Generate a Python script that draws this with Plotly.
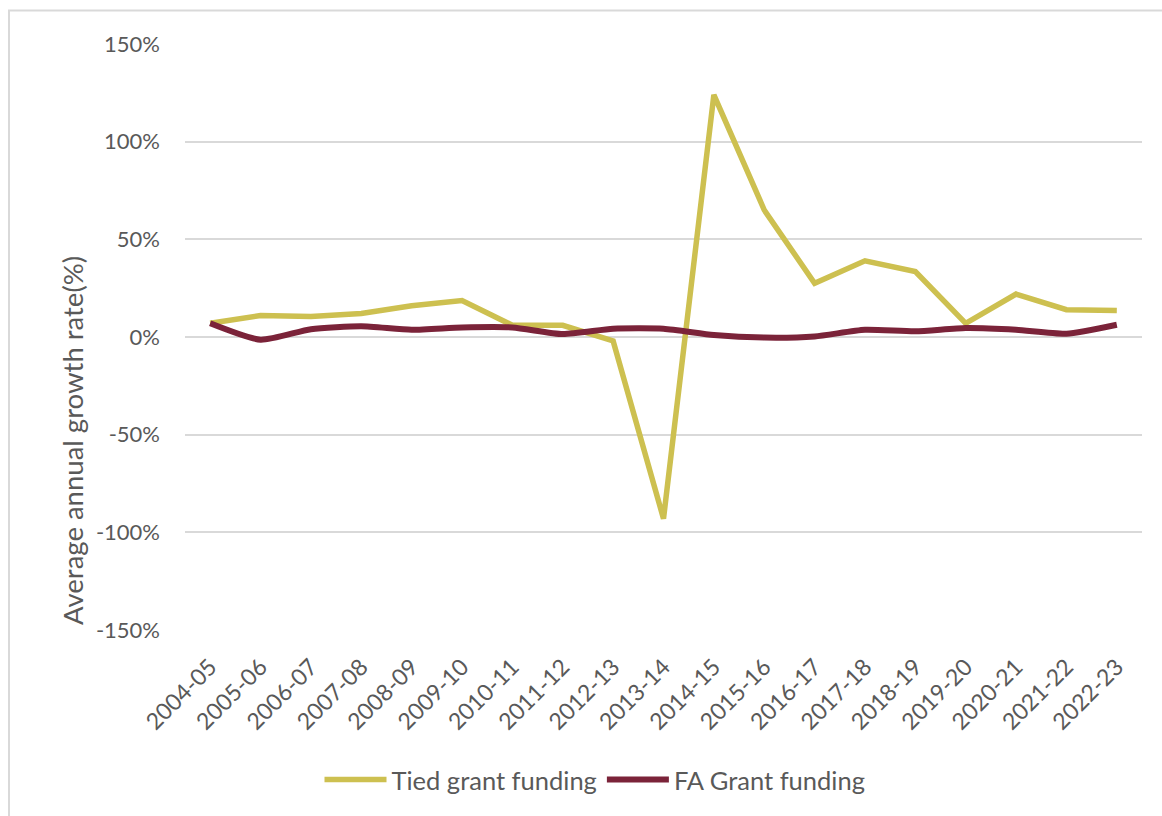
import plotly.graph_objects as go

years = ["2004-05", "2005-06", "2006-07", "2007-08", "2008-09", "2009-10", "2010-11",
         "2011-12", "2012-13", "2013-14", "2014-15", "2015-16", "2016-17", "2017-18",
         "2018-19", "2019-20", "2020-21", "2021-22", "2022-23"]
tied_grant = [7, 11, 10.5, 12, 16, 18.7, 6, 6, -2, -93, 124, 65, 27.5, 39, 33.5, 7, 22, 14, 13.6]
fa_grant = [7, -1.4, 4, 5.5, 3.7, 4.9, 4.9, 1.5, 4.2, 4.2, 1, -0.3, 0.3, 3.7, 2.9, 4.6, 3.7, 1.7, 6.3]
y_ticks = [-150, -100, -50, 0, 50, 100, 150]
y_tick_text = ["-150%", "-100%", "-50%", "0%", "50%", "100%", "150%"]

FONT = "Lato"
GREY = "#595959"

W, H = 1162, 816
L, R, T, B = 185, 20, 44, 186
pw, ph = W - L - R, H - T - B

def px_x(x):
    return (x - L) / pw

def px_y(y):
    return (H - B - y) / ph

fig = go.Figure()
fig.add_trace(go.Scatter(x=years, y=tied_grant, mode="lines", name="Tied grant funding",
                         line=dict(color="#CDC050", width=5.5)))
fig.add_trace(go.Scatter(x=years, y=fa_grant, mode="lines", name="FA Grant funding",
                         line=dict(color="#7B2339", width=6, shape="spline", smoothing=0.6)))

fig.update_layout(
    width=W, height=H,
    margin=dict(l=L, r=R, t=T, b=B),
    paper_bgcolor="white", plot_bgcolor="white",
    font=dict(family=FONT, color=GREY, size=22),
    showlegend=True,
    legend=dict(orientation="h", x=px_x(595), xanchor="center", y=px_y(780), yanchor="middle",
                font=dict(size=25.5, color=GREY), itemwidth=62, tracegroupgap=0,
                bgcolor="rgba(0,0,0,0)"),
    xaxis=dict(type="category", range=[-0.5, len(years) - 0.5], tickangle=-45,
               showgrid=False, showline=False, ticks="",
               tickfont=dict(size=23, color=GREY), ticklabelstandoff=18, zeroline=False),
    yaxis=dict(range=[-150, 150], tickvals=y_ticks, ticktext=y_tick_text,
               showgrid=True, gridcolor="#D9D9D9", gridwidth=1.5,
               zeroline=True, zerolinecolor="#D9D9D9", zerolinewidth=1.5,
               showline=False, ticks="", tickfont=dict(size=22, color=GREY),
               ticklabelstandoff=24),
    annotations=[dict(text="Average annual growth rate(%)", textangle=-90,
                      x=px_x(72), y=px_y(441), xref="paper", yref="paper",
                      showarrow=False, font=dict(size=27.5, color=GREY),
                      xanchor="center", yanchor="middle")],
    shapes=[dict(type="rect", xref="paper", yref="paper",
                 x0=px_x(9), y0=px_y(840), x1=px_x(1175), y1=px_y(10.5),
                 line=dict(color="#D9D9D9", width=2), fillcolor="rgba(0,0,0,0)",
                 layer="below")],
)

fig.write_html("out.html")
